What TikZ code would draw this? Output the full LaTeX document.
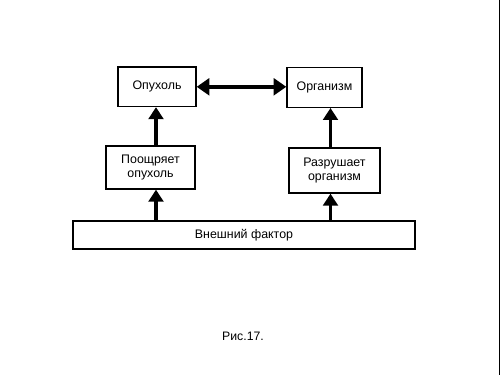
\documentclass[tikz,border=0pt]{standalone}
\usepackage{fontspec}
\setmainfont{Liberation Sans}
\usetikzlibrary{arrows.meta}
\begin{document}
\begin{tikzpicture}[x=0.75pt,y=-0.75pt,
  box/.style={draw,line width=1pt,rectangle,inner sep=0pt,align=center,
    font=\fontsize{9.3}{11}\selectfont},
  conn/.style={line width=2.6pt,-{Triangle[width=11pt,length=9pt]}},
  dconn/.style={line width=2.8pt,{Triangle[width=12.5pt,length=9.5pt]}-{Triangle[width=12.5pt,length=9.5pt]}}]
\useasboundingbox (0,0) rectangle (500,375);
\fill[white] (0,0) rectangle (500,375);
\draw[line width=0.9pt] (499.4,0) -- (499.4,375);
\node[box,minimum width=58.5pt,minimum height=29.5pt] (op) at (157,86.8) {Опухоль};
\node[box,minimum width=56.25pt,minimum height=30pt] (org) at (324.5,87.3) {Организм};
\node[box,minimum width=66.75pt,minimum height=32.25pt] (poo) at (150.5,167.5) {Поощряет\\опухоль};
\node[box,minimum width=68.25pt,minimum height=33.75pt] (raz) at (334.5,170.5) {Разрушает\\организм};
\node[box,minimum width=256.5pt,minimum height=21pt] (ext) at (244,235) {Внешний фактор};
\node[font=\fontsize{9.2}{11}\selectfont] (cap) at (243,336) {Рис.17.};
\coordinate (cl) at (156,0);
\coordinate (cr) at (330.5,0);
\draw[conn] (ext.north -| cl) -- (poo.south -| cl);
\draw[conn] (poo.north -| cl) -- (op.south -| cl);
\draw[conn] (ext.north -| cr) -- (raz.south -| cr);
\draw[conn] (raz.north -| cr) -- (org.south -| cr);
\draw[dconn] (op.east) -- (op.east -| org.west);
\end{tikzpicture}
\end{document}
